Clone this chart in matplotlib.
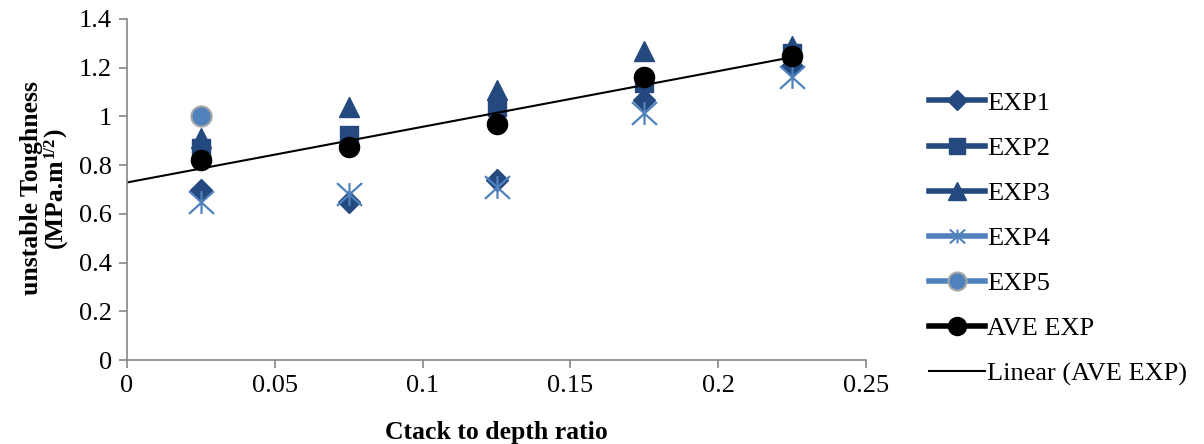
import numpy as np
import matplotlib.pyplot as plt
from matplotlib.lines import Line2D
from matplotlib.path import Path

plt.rcParams['font.family'] = ['Liberation Serif', 'DejaVu Serif']
plt.rcParams['mathtext.fontset'] = 'stix'

# data
ratio = [0.025, 0.075, 0.125, 0.175, 0.225]
exp1 = [0.696, 0.650, 0.740, 1.068, 1.205]
exp2 = [0.870, 0.925, 1.040, 1.137, 1.260]
exp3 = [0.910, 1.040, 1.110, 1.267, 1.290]
exp4 = [0.650, 0.680, 0.710, 1.014, 1.160]
exp5_x = [0.025]
exp5 = [1.000]
ave = [0.822, 0.873, 0.968, 1.160, 1.250]

dark = '#24497F'
light = '#4F81BD'

# asterisk marker as in the Excel chart
star = Path([(-1.1, -1), (1.1, 1), (-1.1, 1), (1.1, -1), (0, -1), (0, 1)],
            [Path.MOVETO, Path.LINETO, Path.MOVETO, Path.LINETO, Path.MOVETO, Path.LINETO])

fig = plt.figure(figsize=(12.04, 4.44), dpi=100)
ax = fig.add_axes([127 / 1204, 84 / 444, 739 / 1204, 341 / 444])

ax.plot(ratio, exp1, ls='none', marker='D', ms=11, color=dark)
ax.plot(ratio, exp2, ls='none', marker='s', ms=12.5, color=dark)
ax.plot(ratio, exp3, ls='none', marker='^', ms=14.5, color=dark)
ax.plot(ratio, exp4, ls='none', marker=star, ms=18, mew=1.6, color=light, mfc='none')
ax.plot(exp5_x, exp5, ls='none', marker='o', ms=14.5, color=light, mec='#A6A6A6', mew=1.5)
ax.plot(ratio, ave, ls='none', marker='o', ms=14.5, color='black')

# linear trend of the average, extended back to zero
k, b = np.polyfit(ratio, ave, 1)
xt = np.array([0, ratio[-1]])
ax.plot(xt, k * xt + b, color='black', lw=1.5)

ax.set_xlim(0, 0.25)
ax.set_ylim(0, 1.4)
ax.set_xticks([0, 0.05, 0.1, 0.15, 0.2, 0.25])
ax.set_xticklabels(['0', '0.05', '0.1', '0.15', '0.2', '0.25'])
ax.set_yticks(np.arange(0, 1.41, 0.2))
ax.set_yticklabels(['0', '0.2', '0.4', '0.6', '0.8', '1', '1.2', '1.4'])
ax.tick_params(labelsize=19, color='#868686', length=6, width=1.2)
ax.tick_params(axis='x', pad=5)
ax.tick_params(axis='y', pad=5)
for s in ['top', 'right']:
    ax.spines[s].set_visible(False)
for s in ['left', 'bottom']:
    ax.spines[s].set_color('#868686')
    ax.spines[s].set_linewidth(1.2)

ax.set_xlabel('Ctack to depth ratio', fontsize=18.5, fontweight='bold', labelpad=17)

# y label: two rotated lines, the second one built from pieces so the
# small superscript sits where it does in the original
W, H = 1204, 444
yc = H - 188
lab = dict(rotation=90, fontweight='bold', va='baseline', rotation_mode='anchor')
fig.text(38 / W, yc / H, 'unstable Toughness', fontsize=18.5, ha='center', **lab)

renderer = fig.canvas.get_renderer()
pieces = [('(MPa.m', 18.5, 0), ('1/2', 12, -8), (')', 18.5, 0)]
texts = []
for s, fs, dx in pieces:
    t = fig.text((62 + dx) / W, 0, s, fontsize=fs, ha='left', **lab)
    texts.append(t)
lengths = [t.get_window_extent(renderer).height for t in texts]
y0 = yc - sum(lengths) / 2
for t, ln in zip(texts, lengths):
    t.set_y(y0 / H)
    y0 += ln

handles = [
    Line2D([], [], color=dark, lw=4, marker='D', ms=10),
    Line2D([], [], color=dark, lw=4, marker='s', ms=12),
    Line2D([], [], color=dark, lw=4, marker='^', ms=13),
    Line2D([], [], color=light, lw=4, marker=star, ms=11, mew=1.5, mfc='none'),
    Line2D([], [], color=light, lw=4, marker='o', ms=13, mec='#A6A6A6', mew=1.5),
    Line2D([], [], color='black', lw=4, marker='o', ms=13),
    Line2D([], [], color='black', lw=1.5),
]
labels = ['EXP1', 'EXP2', 'EXP3', 'EXP4', 'EXP5', 'AVE EXP', 'Linear (AVE EXP)']
fig.legend(handles, labels, loc='upper left', bbox_to_anchor=(916 / W, 1 - 78 / H),
           frameon=False, fontsize=19, handlelength=2.1, handletextpad=0.1,
           labelspacing=0.82, borderpad=0)

fig.savefig('out.png', dpi=100)
